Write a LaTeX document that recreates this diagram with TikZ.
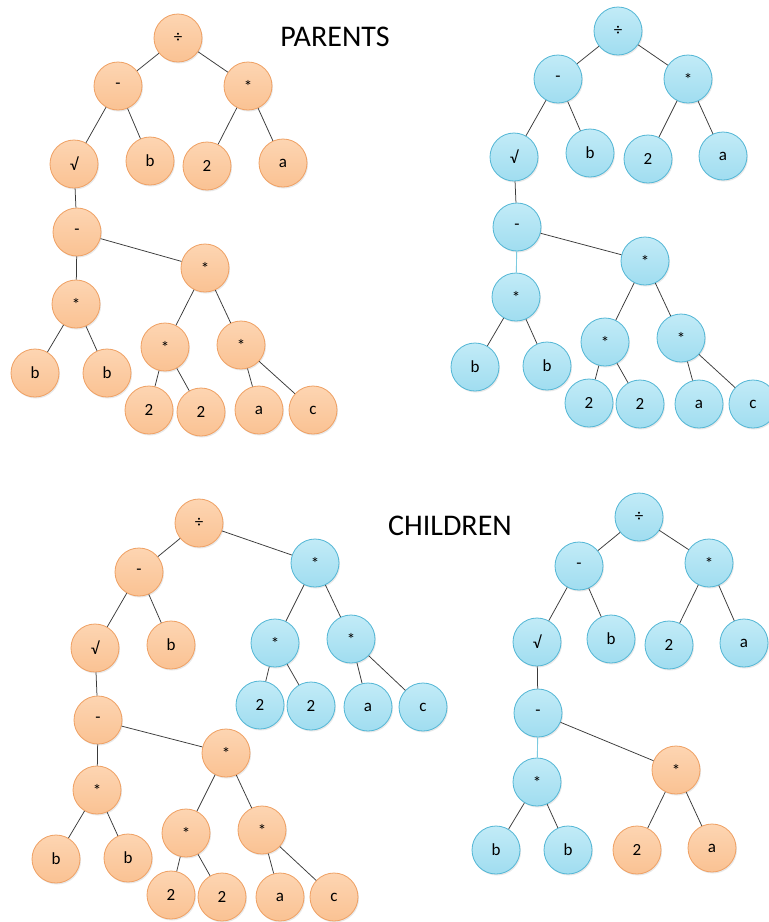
\documentclass[tikz,border=0pt]{standalone}
\usepackage{fontspec}
\setmainfont{Carlito}
\usetikzlibrary{shadows}
\definecolor{orfill}{HTML}{FAC293}
\definecolor{ortop}{HTML}{FDD5B2}
\definecolor{ordraw}{HTML}{EFA063}
\definecolor{blfill}{HTML}{A0DDF0}
\definecolor{bltop}{HTML}{C2EBF7}
\definecolor{bldraw}{HTML}{52B6D5}
\definecolor{edgec}{HTML}{3A3A3A}
\definecolor{bledge}{HTML}{7CCBE0}
\tikzset{
  tn/.style={circle, minimum size=48pt, inner sep=0pt, font=\fontsize{17pt}{19pt}\selectfont, line width=0.8pt,
    drop shadow={opacity=0.18, shadow xshift=1pt, shadow yshift=-1.5pt}},
  orn/.style={tn, draw=ordraw, top color=ortop, bottom color=orfill},
  bln/.style={tn, draw=bldraw, top color=bltop, bottom color=blfill},
  ed/.style={draw=edgec, line width=0.75pt},
  bed/.style={draw=bledge, line width=0.9pt},
  title/.style={font=\fontsize{30pt}{33pt}\selectfont, inner sep=0pt}
}
\begin{document}
\begin{tikzpicture}[x=1pt,y=-1pt]
\useasboundingbox (0,0) rectangle (769,922);
\fill[white] (0,0) rectangle (769,922);

\node[title] (tp) at (335,37) {PARENTS};
\node[title] (tc) at (450,526) {CHILDREN};

% ---------- Parent 1 (orange) ----------
\node[orn] (a1) at (178,38) {÷};
\node[orn] (a2) at (118,86) {-};
\node[orn] (a3) at (248,86) {*};
\node[orn] (a4) at (74,164) {√};
\node[orn] (a5) at (150,161) {b};
\node[orn] (a6) at (207,166) {2};
\node[orn] (a7) at (283,163) {a};
\node[orn] (a8) at (77,232) {-};
\node[orn] (a9) at (76,304) {*};
\node[orn] (a10) at (205,268) {*};
\node[orn] (a11) at (35,373) {b};
\node[orn] (a12) at (107,373) {b};
\node[orn] (a13) at (165,347) {*};
\node[orn] (a14) at (241,345) {*};
\node[orn] (a15) at (149,410) {2};
\node[orn] (a16) at (201,412) {2};
\node[orn] (a17) at (259,410) {a};
\node[orn] (a18) at (313,410) {c};
\path[ed] (a1)--(a2) (a1)--(a3) (a2)--(a4) (a2)--(a5) (a3)--(a6) (a3)--(a7)
  (a4)--(a8) (a8)--(a9) (a8)--(a10) (a9)--(a11) (a9)--(a12) (a10)--(a13) (a10)--(a14)
  (a13)--(a15) (a13)--(a16) (a14)--(a17) (a14)--(a18);

% ---------- Parent 2 (blue) ----------
\node[bln] (b1) at (618,31) {÷};
\node[bln] (b2) at (558,79) {-};
\node[bln] (b3) at (688,79) {*};
\node[bln] (b4) at (514,157) {√};
\node[bln] (b5) at (590,153) {b};
\node[bln] (b6) at (648,159) {2};
\node[bln] (b7) at (723,156) {a};
\node[bln] (b8) at (517,227) {-};
\node[bln] (b9) at (516,297) {*};
\node[bln] (b10) at (645,261) {*};
\node[bln] (b11) at (475,367) {b};
\node[bln] (b12) at (547,366) {b};
\node[bln] (b13) at (605,342) {*};
\node[bln] (b14) at (681,338) {*};
\node[bln] (b15) at (589,403) {2};
\node[bln] (b16) at (640,404) {2};
\node[bln] (b17) at (699,404) {a};
\node[bln] (b18) at (753,404) {c};
\path[ed] (b1)--(b2) (b1)--(b3) (b2)--(b4) (b2)--(b5) (b3)--(b6) (b3)--(b7)
  (b4)--(b8) (b8)--(b10) (b9)--(b11) (b9)--(b12) (b10)--(b13) (b10)--(b14)
  (b13)--(b15) (b13)--(b16) (b14)--(b17) (b14)--(b18);
\path[bed] (b8)--(b9);

% ---------- Child 1 ----------
\node[orn] (c1) at (199,523) {÷};
\node[orn] (c2) at (139,572) {-};
\node[bln] (c3) at (315,563) {*};
\node[orn] (c4) at (95,648) {√};
\node[orn] (c5) at (171,645) {b};
\node[bln] (c6) at (275,643) {*};
\node[bln] (c7) at (351,639) {*};
\node[bln] (c8) at (260,705) {2};
\node[bln] (c9) at (311,706) {2};
\node[bln] (c10) at (368,707) {a};
\node[bln] (c11) at (423,707) {c};
\node[orn] (c12) at (98,720) {-};
\node[orn] (c13) at (97,790) {*};
\node[orn] (c14) at (226,753) {*};
\node[orn] (c15) at (56,859) {b};
\node[orn] (c16) at (128,858) {b};
\node[orn] (c17) at (186,833) {*};
\node[orn] (c18) at (262,830) {*};
\node[orn] (c19) at (171,895) {2};
\node[orn] (c20) at (222,897) {2};
\node[orn] (c21) at (280,897) {a};
\node[orn] (c22) at (334,897) {c};
\path[ed] (c1)--(c2) (c1)--(c3) (c2)--(c4) (c2)--(c5) (c3)--(c6) (c3)--(c7)
  (c6)--(c8) (c6)--(c9) (c7)--(c10) (c7)--(c11)
  (c4)--(c12) (c12)--(c13) (c12)--(c14) (c13)--(c15) (c13)--(c16) (c14)--(c17) (c14)--(c18)
  (c17)--(c19) (c17)--(c20) (c18)--(c21) (c18)--(c22);

% ---------- Child 2 ----------
\node[bln] (d1) at (639,517) {÷};
\node[bln] (d2) at (579,566) {-};
\node[bln] (d3) at (709,563) {*};
\node[bln] (d4) at (537,642) {√};
\node[bln] (d5) at (611,639) {b};
\node[bln] (d6) at (669,645) {2};
\node[bln] (d7) at (744,643) {a};
\node[bln] (d8) at (538,713) {-};
\node[bln] (d9) at (537,782) {*};
\node[orn] (d10) at (676,770) {*};
\node[bln] (d11) at (496,850) {b};
\node[bln] (d12) at (568,850) {b};
\node[orn] (d13) at (637,850) {2};
\node[orn] (d14) at (712,848) {a};
\path[ed] (d1)--(d2) (d1)--(d3) (d2)--(d4) (d2)--(d5) (d3)--(d6) (d3)--(d7)
  (d4)--(d8) (d8)--(d10) (d9)--(d11) (d9)--(d12) (d10)--(d13) (d10)--(d14);
\path[bed] (d8)--(d9);
\end{tikzpicture}
\end{document}
